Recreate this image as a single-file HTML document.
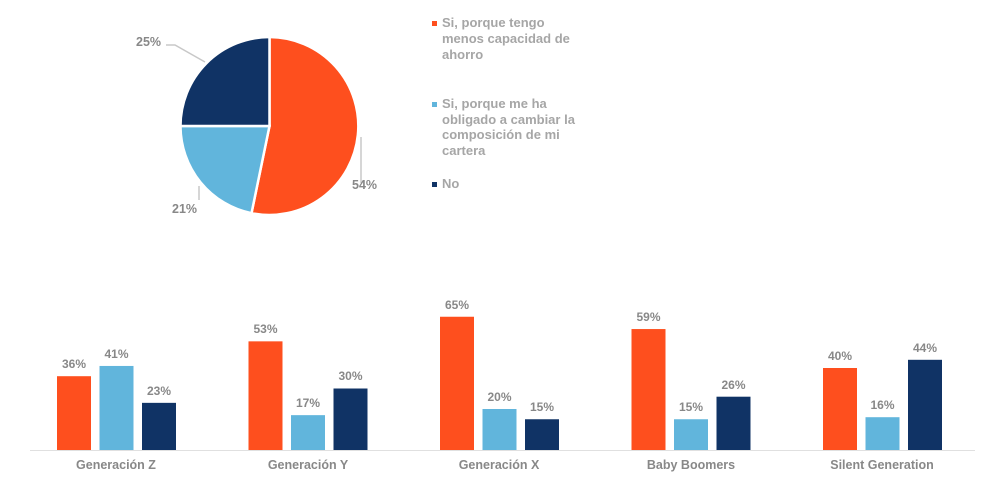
<!DOCTYPE html>
<html><head><meta charset="utf-8"><style>
body{margin:0;background:#fff;}
text{font-family:"Liberation Sans",sans-serif;font-weight:bold;}
</style></head><body>
<svg width="1002" height="488" xmlns="http://www.w3.org/2000/svg">
<g stroke="#fff" stroke-width="2.5">
<path d="M269.5,126 L269.5,37 A89,89 0 1 1 251.5,213.2 Z" fill="#fe4f1e"/>
<path d="M269.5,126 L251.5,213.2 A89,89 0 0 1 180.5,126 Z" fill="#61b5dc"/>
<path d="M269.5,126 L180.5,126 A89,89 0 0 1 269.5,37 Z" fill="#103365"/>
</g>
<g stroke="#c8c8c8" stroke-width="1.5" fill="none">
<polyline points="166,45 175,45 205,62"/>
<line x1="361" y1="137" x2="361" y2="183"/>
<line x1="199" y1="186" x2="199" y2="200"/>
</g>
<g fill="#888" font-size="12.5">
<text x="136" y="46">25%</text>
<text x="352" y="189">54%</text>
<text x="172" y="213">21%</text>
</g>
<g font-size="13" fill="#a6a6a6">
<rect x="432" y="21" width="5" height="5" fill="#fe4f1e"/>
<text x="442" y="27">Si, porque tengo</text>
<text x="442" y="43">menos capacidad de</text>
<text x="442" y="59">ahorro</text>
<rect x="432" y="102" width="5" height="5" fill="#61b5dc"/>
<text x="442" y="108">Si, porque me ha</text>
<text x="442" y="124">obligado a cambiar la</text>
<text x="442" y="139">composición de mi</text>
<text x="442" y="155">cartera</text>
<rect x="432" y="182" width="5" height="5" fill="#103365"/>
<text x="442" y="188">No</text>
</g>
<line x1="30" y1="450.5" x2="975" y2="450.5" stroke="#e0e0e0" stroke-width="1"/>
<g>
<rect x="57" y="376.2" width="34" height="73.8" fill="#fe4f1e"/>
<rect x="99.5" y="365.95" width="34" height="84.05" fill="#61b5dc"/>
<rect x="142" y="402.85" width="34" height="47.15" fill="#103365"/>
<rect x="248.5" y="341.35" width="34" height="108.65" fill="#fe4f1e"/>
<rect x="291" y="415.15" width="34" height="34.85" fill="#61b5dc"/>
<rect x="333.5" y="388.5" width="34" height="61.5" fill="#103365"/>
<rect x="440" y="316.75" width="34" height="133.25" fill="#fe4f1e"/>
<rect x="482.5" y="409" width="34" height="41" fill="#61b5dc"/>
<rect x="525" y="419.25" width="34" height="30.75" fill="#103365"/>
<rect x="631.5" y="329.05" width="34" height="120.95" fill="#fe4f1e"/>
<rect x="674" y="419.25" width="34" height="30.75" fill="#61b5dc"/>
<rect x="716.5" y="396.7" width="34" height="53.3" fill="#103365"/>
<rect x="823" y="368" width="34" height="82" fill="#fe4f1e"/>
<rect x="865.5" y="417.2" width="34" height="32.8" fill="#61b5dc"/>
<rect x="908" y="359.8" width="34" height="90.2" fill="#103365"/>
</g>
<g font-size="12" fill="#888" text-anchor="middle">
<text x="74" y="368">36%</text>
<text x="116.5" y="358">41%</text>
<text x="159" y="395">23%</text>
<text x="265.5" y="333">53%</text>
<text x="308" y="407">17%</text>
<text x="350.5" y="380">30%</text>
<text x="457" y="309">65%</text>
<text x="499.5" y="401">20%</text>
<text x="542" y="411">15%</text>
<text x="648.5" y="321">59%</text>
<text x="691" y="411">15%</text>
<text x="733.5" y="389">26%</text>
<text x="840" y="360">40%</text>
<text x="882.5" y="409">16%</text>
<text x="925" y="352">44%</text>
</g>
<g font-size="12.5" fill="#888" text-anchor="middle">
<text x="116" y="469">Generación Z</text>
<text x="308" y="469">Generación Y</text>
<text x="499" y="469">Generación X</text>
<text x="691" y="469">Baby Boomers</text>
<text x="882" y="469">Silent Generation</text>
</g>
</svg>
</body></html>
